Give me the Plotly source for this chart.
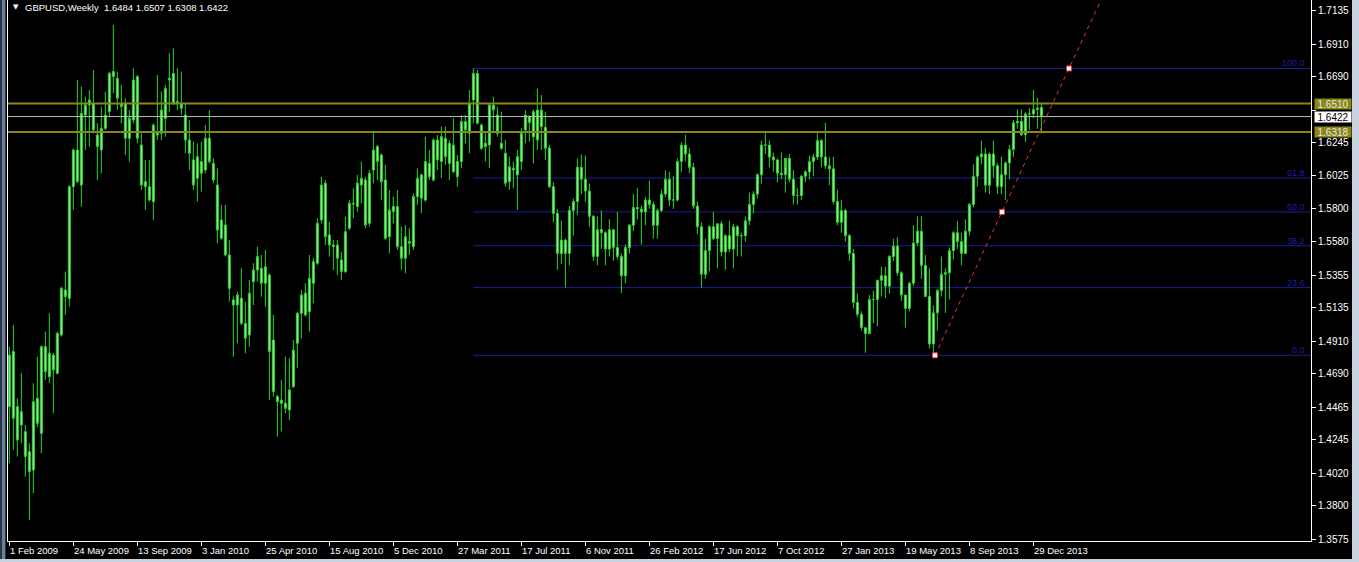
import plotly.graph_objects as go

# ---------------- data (weekly GBPUSD bars, bar index 0 = week of 1 Feb 2009) -------------
open_ = [
    1.4468, 1.4839, 1.4468, 1.4345, 1.4300, 1.4165, 1.4042, 1.4525, 1.4289, 1.4873,
    1.4670, 1.4816, 1.4693, 1.4951, 1.5254, 1.5198, 1.5950, 1.6197, 1.5961, 1.6433,
    1.6500, 1.6511, 1.6298, 1.6197, 1.6343, 1.6455, 1.6725, 1.6680, 1.6511, 1.6511,
    1.6276, 1.6399, 1.6691, 1.6231, 1.5984, 1.5950, 1.5849, 1.6321, 1.6309, 1.6410,
    1.6669, 1.6713, 1.6511, 1.6511, 1.6433, 1.6264, 1.6130, 1.6006, 1.6119, 1.6062,
    1.6276, 1.6107, 1.5961, 1.5602, 1.5692, 1.5490, 1.5187, 1.5153, 1.5198, 1.5030,
    1.4951, 1.5310, 1.5389, 1.5400, 1.5299, 1.5355, 1.4917, 1.4536, 1.4491, 1.4491,
    1.4446, 1.4603, 1.4895, 1.5097, 1.5232, 1.5108, 1.5299, 1.5434, 1.5726, 1.5973,
    1.5625, 1.5557, 1.5557, 1.5456, 1.5378, 1.5670, 1.5838, 1.5816, 1.5961, 1.5995,
    1.5703, 1.6062, 1.6220, 1.6163, 1.5995, 1.5613, 1.5816, 1.5816, 1.5546, 1.5468,
    1.5580, 1.5546, 1.5883, 1.6029, 1.5860, 1.6107, 1.5995, 1.6264, 1.6119, 1.6276,
    1.6242, 1.6051, 1.6119, 1.6119, 1.6388, 1.6309, 1.6534, 1.6713, 1.6365, 1.6220,
    1.6231, 1.6500, 1.6433, 1.6242, 1.6175, 1.5984, 1.6074, 1.6029, 1.6119, 1.6332,
    1.6421, 1.6286, 1.6466, 1.6354, 1.6350, 1.6210, 1.5950, 1.5770, 1.5500, 1.5590,
    1.5500, 1.5790, 1.5850, 1.6080, 1.6000, 1.5920, 1.5750, 1.5480, 1.5660, 1.5640,
    1.5530, 1.5660, 1.5540, 1.5480, 1.5350, 1.5540, 1.5690, 1.5810, 1.5800, 1.5780,
    1.5860, 1.5830, 1.5690, 1.5790, 1.5900, 1.6000, 1.5860, 1.5860, 1.6120, 1.6230,
    1.6170, 1.6080, 1.5820, 1.5680, 1.5360, 1.5520, 1.5680, 1.5600, 1.5700, 1.5510,
    1.5620, 1.5530, 1.5680, 1.5620, 1.5620, 1.5720, 1.5830, 1.5900, 1.6030, 1.6230,
    1.6230, 1.6150, 1.6130, 1.6040, 1.6030, 1.6140, 1.6000, 1.5890, 1.5890, 1.6020,
    1.6050, 1.6120, 1.6150, 1.6260, 1.6150, 1.6090, 1.6070, 1.5850, 1.5710, 1.5790,
    1.5620, 1.5500, 1.5170, 1.5090, 1.5000, 1.4960, 1.5190, 1.5190, 1.5320, 1.5350,
    1.5280, 1.5480, 1.5550, 1.5370, 1.5220, 1.5130, 1.5300, 1.5570, 1.5650, 1.5420,
    1.5210, 1.4890, 1.5100, 1.5250, 1.5360, 1.5370, 1.5520, 1.5640, 1.5580, 1.5500,
    1.5650, 1.5830, 1.6020, 1.6150, 1.6170, 1.5960, 1.6170, 1.6090, 1.5950, 1.6030,
    1.6110, 1.6200, 1.6380, 1.6390, 1.6300, 1.6440, 1.6440, 1.6470, 1.6484,
]
high = [
    1.4873, 1.5018, 1.4525, 1.4693, 1.4345, 1.4222, 1.4626, 1.4805, 1.4880, 1.4974,
    1.5097, 1.4830, 1.4974, 1.5277, 1.5378, 1.5961, 1.6208, 1.6669, 1.6624, 1.6556,
    1.6601, 1.6736, 1.6377, 1.6489, 1.6590, 1.6725, 1.7039, 1.6725, 1.6635, 1.6545,
    1.6466, 1.6747, 1.6702, 1.6309, 1.6130, 1.6130, 1.6377, 1.6702, 1.6590, 1.6635,
    1.6848, 1.6882, 1.6747, 1.6725, 1.6511, 1.6399, 1.6253, 1.6242, 1.6253, 1.6365,
    1.6466, 1.6141, 1.6074, 1.5827, 1.5827, 1.5591, 1.5209, 1.5243, 1.5400, 1.5176,
    1.5322, 1.5434, 1.5546, 1.5490, 1.5524, 1.5367, 1.5086, 1.4547, 1.4648, 1.4805,
    1.4794, 1.4917, 1.5108, 1.5254, 1.5299, 1.5490, 1.5468, 1.5737, 1.6017, 1.5995,
    1.5714, 1.5591, 1.5591, 1.5512, 1.5748, 1.5860, 1.5939, 1.6029, 1.6119, 1.6017,
    1.6062, 1.6309, 1.6231, 1.6175, 1.6096, 1.5928, 1.5883, 1.5928, 1.5681, 1.5692,
    1.5670, 1.5905, 1.6074, 1.6040, 1.6287, 1.6197, 1.6276, 1.6298, 1.6354, 1.6354,
    1.6264, 1.6410, 1.6163, 1.6433, 1.6433, 1.6601, 1.6746, 1.6736, 1.6377, 1.6321,
    1.6511, 1.6556, 1.6489, 1.6455, 1.6264, 1.6152, 1.6119, 1.6197, 1.6343, 1.6466,
    1.6432, 1.6470, 1.6612, 1.6567, 1.6455, 1.6230, 1.5980, 1.5800, 1.5720, 1.5600,
    1.5820, 1.5870, 1.6140, 1.6166, 1.6160, 1.5970, 1.5760, 1.5750, 1.5790, 1.5650,
    1.5730, 1.5660, 1.5780, 1.5500, 1.5560, 1.5700, 1.5900, 1.5940, 1.5820, 1.5880,
    1.5990, 1.5850, 1.5800, 1.5930, 1.6060, 1.6050, 1.6020, 1.6140, 1.6250, 1.6300,
    1.6210, 1.6110, 1.5850, 1.5710, 1.5600, 1.5690, 1.5780, 1.5700, 1.5720, 1.5630,
    1.5720, 1.5700, 1.5690, 1.5640, 1.5750, 1.5910, 1.5920, 1.6040, 1.6260, 1.6310,
    1.6260, 1.6180, 1.6140, 1.6180, 1.6080, 1.6170, 1.6060, 1.5940, 1.6030, 1.6060,
    1.6160, 1.6170, 1.6310, 1.6270, 1.6380, 1.6150, 1.6150, 1.5930, 1.5860, 1.5800,
    1.5630, 1.5530, 1.5230, 1.5110, 1.5000, 1.5220, 1.5250, 1.5320, 1.5410, 1.5410,
    1.5490, 1.5600, 1.5610, 1.5380, 1.5220, 1.5310, 1.5690, 1.5750, 1.5752, 1.5490,
    1.5400, 1.5150, 1.5260, 1.5480, 1.5400, 1.5540, 1.5650, 1.5720, 1.5640, 1.5730,
    1.5840, 1.6100, 1.6160, 1.6260, 1.6210, 1.6180, 1.6260, 1.6110, 1.6150, 1.6120,
    1.6230, 1.6400, 1.6470, 1.6470, 1.6450, 1.6480, 1.6602, 1.6550, 1.6507,
]
low = [
    1.4087, 1.4177, 1.4132, 1.4222, 1.3997, 1.3705, 1.3885, 1.4330, 1.4154, 1.4648,
    1.4626, 1.4424, 1.4685, 1.4940, 1.5086, 1.5142, 1.5793, 1.5973, 1.5816, 1.6197,
    1.6220, 1.6309, 1.5995, 1.6040, 1.6332, 1.6422, 1.6579, 1.6466, 1.6377, 1.6163,
    1.6119, 1.6377, 1.6242, 1.5928, 1.5793, 1.5849, 1.5726, 1.6264, 1.6264, 1.6287,
    1.6455, 1.6500, 1.6466, 1.6433, 1.6175, 1.6062, 1.5928, 1.5849, 1.5916, 1.6040,
    1.6107, 1.5973, 1.5569, 1.5591, 1.5480, 1.5176, 1.4805, 1.4895, 1.5018, 1.4828,
    1.4873, 1.5153, 1.5310, 1.5209, 1.5142, 1.4513, 1.4536, 1.4266, 1.4300, 1.4424,
    1.4379, 1.4595, 1.4727, 1.4929, 1.5075, 1.4974, 1.5164, 1.5423, 1.5703, 1.5557,
    1.5479, 1.5389, 1.5355, 1.5322, 1.5367, 1.5658, 1.5737, 1.5782, 1.5838, 1.5670,
    1.5681, 1.5973, 1.5995, 1.5860, 1.5591, 1.5501, 1.5703, 1.5524, 1.5389, 1.5367,
    1.5490, 1.5524, 1.5827, 1.5771, 1.5849, 1.5995, 1.5984, 1.6062, 1.6006, 1.6096,
    1.5995, 1.6040, 1.5950, 1.6074, 1.6242, 1.6175, 1.6377, 1.6370, 1.6197, 1.6119,
    1.6074, 1.6321, 1.6287, 1.6197, 1.5950, 1.5928, 1.5939, 1.5793, 1.6062, 1.6242,
    1.6253, 1.6107, 1.6197, 1.6197, 1.6129, 1.5940, 1.5710, 1.5390, 1.5430, 1.5270,
    1.5420, 1.5620, 1.5760, 1.5900, 1.5850, 1.5680, 1.5450, 1.5420, 1.5530, 1.5420,
    1.5480, 1.5450, 1.5460, 1.5234, 1.5300, 1.5500, 1.5650, 1.5730, 1.5560, 1.5690,
    1.5800, 1.5600, 1.5600, 1.5780, 1.5880, 1.5820, 1.5800, 1.5850, 1.6050, 1.6120,
    1.6040, 1.5800, 1.5630, 1.5270, 1.5330, 1.5380, 1.5590, 1.5400, 1.5480, 1.5390,
    1.5510, 1.5400, 1.5480, 1.5480, 1.5580, 1.5690, 1.5770, 1.5870, 1.5970, 1.6170,
    1.6080, 1.6050, 1.5980, 1.6000, 1.5910, 1.5980, 1.5830, 1.5830, 1.5860, 1.5980,
    1.6000, 1.6020, 1.6130, 1.6080, 1.6070, 1.5960, 1.5830, 1.5690, 1.5640, 1.5580,
    1.5450, 1.5130, 1.5070, 1.4980, 1.4831, 1.4980, 1.5030, 1.5010, 1.5210, 1.5200,
    1.5230, 1.5450, 1.5350, 1.5180, 1.5000, 1.5110, 1.5280, 1.5550, 1.5330, 1.5220,
    1.4860, 1.4814, 1.4980, 1.5210, 1.5100, 1.5190, 1.5460, 1.5530, 1.5420, 1.5500,
    1.5620, 1.5810, 1.5950, 1.6100, 1.5910, 1.5900, 1.6010, 1.5900, 1.5900, 1.5860,
    1.6000, 1.6150, 1.6340, 1.6290, 1.6250, 1.6330, 1.6410, 1.6340, 1.6308,
]
close = [
    1.4816, 1.4390, 1.4244, 1.4435, 1.4132, 1.4031, 1.4502, 1.4356, 1.4873, 1.4704,
    1.4828, 1.4715, 1.4962, 1.5265, 1.5209, 1.5950, 1.6197, 1.5984, 1.6444, 1.6500,
    1.6534, 1.6332, 1.6220, 1.6343, 1.6433, 1.6713, 1.6691, 1.6545, 1.6489, 1.6276,
    1.6410, 1.6669, 1.6276, 1.5961, 1.5950, 1.5860, 1.6365, 1.6298, 1.6466, 1.6612,
    1.6680, 1.6511, 1.6523, 1.6478, 1.6264, 1.6175, 1.5961, 1.6152, 1.6040, 1.6276,
    1.6119, 1.5995, 1.5658, 1.5726, 1.5490, 1.5265, 1.5153, 1.5220, 1.5030, 1.4929,
    1.5232, 1.5389, 1.5479, 1.5299, 1.5411, 1.4839, 1.4569, 1.4502, 1.4513, 1.4457,
    1.4581, 1.4850, 1.5097, 1.5220, 1.5086, 1.5333, 1.5445, 1.5703, 1.5961, 1.5613,
    1.5557, 1.5546, 1.5468, 1.5378, 1.5647, 1.5838, 1.5833, 1.5973, 1.6006, 1.5692,
    1.6040, 1.6197, 1.6119, 1.5984, 1.5602, 1.5793, 1.5782, 1.5546, 1.5468, 1.5613,
    1.5569, 1.5883, 1.6006, 1.5872, 1.6119, 1.6017, 1.6264, 1.6130, 1.6287, 1.6152,
    1.6107, 1.6231, 1.6017, 1.6388, 1.6332, 1.6511, 1.6713, 1.6377, 1.6208, 1.6242,
    1.6500, 1.6466, 1.6309, 1.6208, 1.5973, 1.6085, 1.6062, 1.6152, 1.6309, 1.6433,
    1.6383, 1.6455, 1.6264, 1.6466, 1.6208, 1.5950, 1.5770, 1.5500, 1.5590, 1.5500,
    1.5790, 1.5850, 1.6080, 1.6000, 1.5920, 1.5750, 1.5480, 1.5660, 1.5640, 1.5530,
    1.5660, 1.5540, 1.5480, 1.5350, 1.5540, 1.5690, 1.5810, 1.5800, 1.5780, 1.5860,
    1.5830, 1.5690, 1.5790, 1.5900, 1.6000, 1.5860, 1.5860, 1.6120, 1.6230, 1.6170,
    1.6080, 1.5820, 1.5680, 1.5360, 1.5520, 1.5680, 1.5600, 1.5700, 1.5510, 1.5620,
    1.5530, 1.5680, 1.5620, 1.5620, 1.5720, 1.5830, 1.5900, 1.6030, 1.6230, 1.6230,
    1.6150, 1.6130, 1.6040, 1.6030, 1.6140, 1.6000, 1.5890, 1.5890, 1.6020, 1.6050,
    1.6120, 1.6150, 1.6260, 1.6150, 1.6090, 1.6070, 1.5850, 1.5710, 1.5790, 1.5620,
    1.5500, 1.5170, 1.5090, 1.5000, 1.4960, 1.5190, 1.5190, 1.5320, 1.5350, 1.5280,
    1.5480, 1.5550, 1.5370, 1.5220, 1.5130, 1.5300, 1.5570, 1.5650, 1.5420, 1.5210,
    1.4890, 1.5100, 1.5250, 1.5360, 1.5370, 1.5520, 1.5640, 1.5580, 1.5500, 1.5650,
    1.5830, 1.6020, 1.6150, 1.6170, 1.5960, 1.6170, 1.6090, 1.5950, 1.6030, 1.6110,
    1.6200, 1.6380, 1.6390, 1.6300, 1.6440, 1.6440, 1.6470, 1.6480, 1.6422,
]
bars = list(range(len(close)))

date_tick_bars = [0, 16, 32, 48, 64, 80, 96, 112, 128, 144, 160, 176, 192, 208, 224, 240, 256]
date_tick_labels = ["1 Feb 2009", "24 May 2009", "13 Sep 2009", "3 Jan 2010", "25 Apr 2010",
                    "15 Aug 2010", "5 Dec 2010", "27 Mar 2011", "17 Jul 2011", "6 Nov 2011",
                    "26 Feb 2012", "17 Jun 2012", "7 Oct 2012", "27 Jan 2013", "19 May 2013",
                    "8 Sep 2013", "29 Dec 2013"]

price_ticks = [1.7135, 1.6910, 1.6690, 1.6465, 1.6245, 1.6025, 1.5800, 1.5580, 1.5355,
               1.5135, 1.4910, 1.4690, 1.4465, 1.4245, 1.4020, 1.3800, 1.3575]
hidden_tick = 1.6465   # covered by the price boxes in the original

level_lines = [1.6510, 1.6318]
bid_price = 1.6422

fib_low, fib_high = 1.4814, 1.6746
fib_start_bar = 116
fib_ratios = [0.0, 23.6, 38.2, 50.0, 61.8, 100.0]

trend_bars = [231.4, 248.15, 264.9]
trend_prices = [1.4814, 1.5780, 1.6746]

symbol, timeframe = "GBPUSD", "Weekly"

# ---------------- geometry ----------------
W, H = 1359, 562
ML, MR, MT, MB = 8, 48, 0, 21
X_RANGE = [-0.33, 325.4]
Y_RANGE = [1.35635, 1.72071]

GREEN_LINE = "#2fd22f"
GREEN_FILL = "#98f598"
OLIVE = "#8a8716"
FIB_BLUE = "#1e1ea0"
FONT = "Liberation Sans"

fig = go.Figure()

fig.add_trace(go.Candlestick(
    x=bars, open=open_, high=high, low=low, close=close,
    increasing=dict(line=dict(color=GREEN_LINE, width=1), fillcolor=GREEN_FILL),
    decreasing=dict(line=dict(color=GREEN_LINE, width=1), fillcolor=GREEN_FILL),
    whiskerwidth=0, hoverinfo="skip", showlegend=False,
))

# fibonacci levels
for r in fib_ratios:
    lvl = fib_low + (fib_high - fib_low) * r / 100.0
    fig.add_shape(type="line", xref="x", yref="y", x0=fib_start_bar, x1=X_RANGE[1],
                  y0=lvl, y1=lvl, line=dict(color=FIB_BLUE, width=1), layer="below")
    fig.add_annotation(xref="paper", yref="y", x=1, y=lvl, xanchor="right", yanchor="bottom",
                       xshift=-4, yshift=-2, text=f"{r:.1f}", showarrow=False,
                       font=dict(family=FONT, size=9, color=FIB_BLUE))

# horizontal levels
for lvl in level_lines:
    fig.add_shape(type="line", xref="paper", yref="y", x0=0, x1=1, y0=lvl, y1=lvl,
                  line=dict(color=OLIVE, width=2))
fig.add_shape(type="line", xref="paper", yref="y", x0=0, x1=1, y0=bid_price, y1=bid_price,
              line=dict(color="#bdbdbd", width=1))

# trend line (extended to top)
slope = (trend_prices[-1] - trend_prices[0]) / (trend_bars[-1] - trend_bars[0])
x_end = trend_bars[0] + (Y_RANGE[1] + 0.01 - trend_prices[0]) / slope
fig.add_trace(go.Scatter(x=[trend_bars[0], x_end], y=[trend_prices[0], Y_RANGE[1] + 0.01],
                         mode="lines", line=dict(color="#e8323c", width=1, dash="4px,4px"),
                         hoverinfo="skip", showlegend=False))
fig.add_trace(go.Scatter(x=trend_bars, y=trend_prices, mode="markers",
                         marker=dict(symbol="square", size=5, color="white",
                                     line=dict(color="#e8323c", width=1)),
                         hoverinfo="skip", showlegend=False))

# price boxes on the axis
for lvl in level_lines:
    fig.add_annotation(xref="paper", yref="y", x=1, y=lvl, xanchor="left", yanchor="middle",
                       xshift=3, text=f"{lvl:.4f}", showarrow=False, bgcolor=OLIVE,
                       width=36, height=10, borderpad=0,
                       font=dict(family=FONT, size=10, color="#e8e8e8"))
fig.add_annotation(xref="paper", yref="y", x=1, y=bid_price, xanchor="left", yanchor="middle",
                   xshift=3, text=f"{bid_price:.4f}", showarrow=False, bgcolor="white",
                   width=36, height=10, borderpad=0,
                   font=dict(family=FONT, size=10, color="black"))

# date labels (left aligned at their tick, MT4 style)
for b, lab in zip(date_tick_bars, date_tick_labels):
    fig.add_annotation(xref="x", yref="paper", x=b, y=0, xanchor="left", yanchor="top",
                       xshift=-1, yshift=-2, text=lab, showarrow=False,
                       font=dict(family=FONT, size=9.5, color="white"))

# title
last = len(close) - 1
title = f"{symbol},{timeframe}  {open_[last]:.4f} {high[last]:.4f} {low[last]:.4f} {close[last]:.4f}"
fig.add_annotation(xref="paper", yref="paper", x=0, y=1, xanchor="left", yanchor="top",
                   xshift=15, yshift=0, text=title, showarrow=False,
                   font=dict(family=FONT, size=9.5, color="white"))
fig.add_annotation(xref="paper", yref="paper", x=0, y=1, xanchor="left", yanchor="top",
                   xshift=3, yshift=-1, text="▼", showarrow=False,
                   font=dict(family="DejaVu Sans", size=7, color="white"))

# window frame strips
def px_x(p):
    return (p - ML) / (W - ML - MR)

def px_y(p):
    return 1 - (p - MT) / (H - MT - MB)

fig.add_shape(type="rect", xref="paper", yref="paper", x0=px_x(0), x1=px_x(6), y0=px_y(H), y1=px_y(0),
              fillcolor="#2a3648", line=dict(width=0))
fig.add_shape(type="rect", xref="paper", yref="paper", x0=px_x(2), x1=px_x(5), y0=px_y(H), y1=px_y(0),
              fillcolor="#6a7f9b", line=dict(width=0))
fig.add_shape(type="rect", xref="paper", yref="paper", x0=px_x(1352), x1=px_x(W), y0=px_y(H), y1=px_y(0),
              fillcolor="#c9d3df", line=dict(width=0))
fig.add_shape(type="rect", xref="paper", yref="paper", x0=px_x(0), x1=px_x(W), y0=px_y(H), y1=px_y(559),
              fillcolor="#c9d3df", line=dict(width=0))

fig.update_layout(
    width=W, height=H, margin=dict(l=ML, r=MR, t=MT, b=MB),
    paper_bgcolor="black", plot_bgcolor="black", showlegend=False,
    xaxis=dict(range=X_RANGE, showgrid=False, zeroline=False, showline=True, linecolor="white",
               linewidth=1, ticks="outside", ticklen=4, tickcolor="white",
               tickvals=date_tick_bars, showticklabels=False, rangeslider=dict(visible=False),
               fixedrange=True),
    yaxis=dict(range=Y_RANGE, side="right", showgrid=False, zeroline=False, showline=True,
               mirror=True, linecolor="white", linewidth=1, ticks="outside", ticklen=4,
               tickcolor="white", tickvals=price_ticks,
               ticktext=["" if v == hidden_tick else f"{v:.4f}" for v in price_ticks],
               tickfont=dict(family=FONT, size=10, color="white"), fixedrange=True),
)

fig.write_html(
    "out.html",
    config={"displayModeBar": False},
    post_script="document.body.style.margin='0';document.body.style.overflow='hidden';",
)
